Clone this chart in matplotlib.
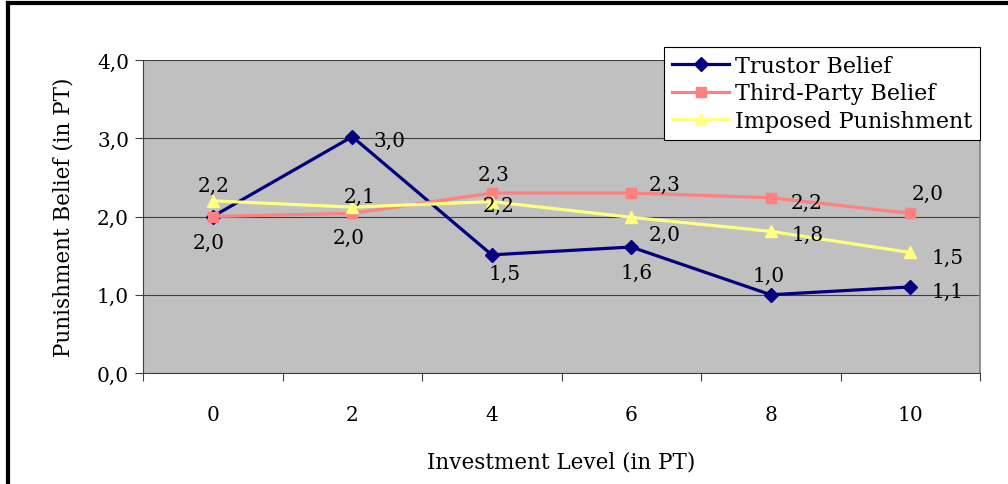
import matplotlib
matplotlib.use('Agg')
import matplotlib.pyplot as plt
from matplotlib.lines import Line2D
from matplotlib.ticker import FixedLocator

plt.rcParams['font.family'] = ['DejaVu Serif']
plt.rcParams['font.size'] = 14.5

# 数据
levels = ['0', '2', '4', '6', '8', '10']
trustor = [2.0, 3.02, 1.51, 1.61, 1.0, 1.1]
third_party = [2.0, 2.04, 2.3, 2.3, 2.24, 2.04]
imposed = [2.2, 2.12, 2.19, 1.99, 1.81, 1.54]

# 每个数据标签的偏移（像素，向右/向上为正）
off_trustor = [(-4, -26), (37, -4), (13, -19), (5, -25), (-2, 19), (37, -4)]
off_third = [None, (-4, -24), (2, 19), (33, 9), (36, -5), (17, 20)]
off_imposed = [(1, 15), (7, 11), (7, -4), (33, -17), (37, -3), (37, -5)]

fig = plt.figure(figsize=(10.08, 4.85), dpi=100)
ax = fig.add_axes([143 / 1008, 1 - 374 / 485, 837 / 1008, 313 / 485])
ax.set_facecolor('#C0C0C0')

x = list(range(len(levels)))
ax.plot(x, trustor, color='#000080', lw=2.3, marker='D', ms=7, label='Trustor Belief', zorder=3)
ax.plot(x, third_party, color='#FF8080', lw=2.3, marker='s', ms=7, label='Third-Party Belief', zorder=3)
ax.plot(x, imposed, color='#FFFF80', lw=2.3, marker='^', ms=8, label='Imposed Punishment', zorder=3)

# 数据标签
for vals, offs in [(trustor, off_trustor), (third_party, off_third), (imposed, off_imposed)]:
    for i, v in enumerate(vals):
        if offs[i] is None:
            continue
        dx, dy = offs[i]
        ax.annotate(('%.1f' % v).replace('.', ','), (i, v), xytext=(dx * 0.72, dy * 0.72),
                    textcoords='offset points', ha='center', va='center', fontsize=14.5, zorder=4)

ax.set_xlim(-0.5, 5.5)
ax.set_ylim(0, 4)
ax.set_yticks([0, 1, 2, 3, 4])
ax.set_yticklabels(['0,0', '1,0', '2,0', '3,0', '4,0'])
ax.set_xticks(x)
ax.set_xticklabels(levels)
ax.xaxis.set_minor_locator(FixedLocator([i - 0.5 for i in range(len(levels) + 1)]))
ax.tick_params(axis='x', which='major', length=0, pad=23)
ax.tick_params(axis='x', which='minor', length=6, width=0.8, color='#404040', direction='out')
ax.tick_params(axis='y', length=6, width=0.8, color='#404040', pad=4)
ax.grid(axis='y', color='#404040', lw=0.8)
ax.set_axisbelow(True)

ax.spines['top'].set_visible(False)
ax.spines['right'].set_color('#808080')
ax.spines['right'].set_linewidth(1.2)
ax.spines['left'].set_color('#404040')
ax.spines['bottom'].set_color('#404040')

ax.set_xlabel('Investment Level (in PT)', fontsize=15.5, labelpad=19)
ax.set_ylabel('Punishment Belief (in PT)', fontsize=15.5, labelpad=16)

leg = ax.legend(loc='upper right', bbox_to_anchor=(980 / 1008, 1 - 48 / 485),
                bbox_transform=fig.transFigure, borderaxespad=0, fancybox=False,
                framealpha=1, edgecolor='black', fontsize=16, handlelength=2.6,
                labelspacing=0.25, borderpad=0.35, handletextpad=0.25)
leg.get_frame().set_linewidth(0.8)

# 外框
fig.add_artist(Line2D([8 / 1008, 8 / 1008], [0, 1 - 4 / 485], color='black', lw=3, transform=fig.transFigure))
fig.add_artist(Line2D([8 / 1008, 1], [1 - 4 / 485, 1 - 4 / 485], color='black', lw=3, transform=fig.transFigure))

fig.savefig('out.png', dpi=100)
